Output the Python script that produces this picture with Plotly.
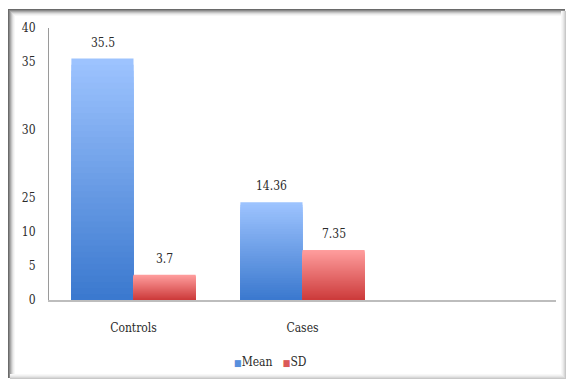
import plotly.graph_objects as go

# ---- data ----
categories = ["Controls", "Cases"]
mean_values = [35.5, 14.36]
sd_values = [3.7, 7.35]
value_labels_mean = ["35.5", "14.36"]
value_labels_sd = ["3.7", "7.35"]

# y-axis tick positions and the labels printed at them
y_tickvals = [0, 5, 10, 15, 25, 35, 40]
y_ticktext = ["0", "5", "10", "25", "30", "35", "40"]

# ---- styling ----
W, H = 568, 381
M_L, M_R, M_T, M_B = 49, 12, 28, 81
FONT = "DejaVu Serif Condensed"
FSIZE = 12
TEXT_COLOR = "#2b2b2b"

MEAN_BOTTOM, MEAN_TOP = (58, 120, 206), (158, 196, 255)
SD_BOTTOM, SD_TOP = (204, 58, 58), (255, 158, 158)
N_SEG = 40  # nested layers used to shade each bar with a vertical gradient


def mix(c0, c1, t):
    r, g, b = (round(a + (b_ - a) * t) for a, b_ in zip(c0, c1))
    return f"rgb({r},{g},{b})"


def px_x(px):
    return (px - M_L) / (W - M_L - M_R)


def px_y(py):
    return (H - M_B - py) / (H - M_T - M_B)


fig = go.Figure()


def add_gradient_bars(values, name, c_bottom, c_top):
    # tallest (lightest) layer first, each shorter & darker layer drawn over it
    for k in range(N_SEG):
        frac = (N_SEG - k) / N_SEG
        t = (N_SEG - k - 0.5) / N_SEG
        fig.add_trace(go.Bar(
            x=categories,
            y=[v * frac for v in values],
            offsetgroup=name,
            name=name,
            marker=dict(color=mix(c_bottom, c_top, t), line=dict(width=0)),
            showlegend=False,
            hoverinfo="skip",
        ))


add_gradient_bars(mean_values, "Mean", MEAN_BOTTOM, MEAN_TOP)
add_gradient_bars(sd_values, "SD", SD_BOTTOM, SD_TOP)

label_font = dict(family=FONT, size=FSIZE, color=TEXT_COLOR)
annotations = []
# value labels above each bar
for cat, v, lab in zip(categories, mean_values, value_labels_mean):
    annotations.append(dict(x=cat, y=v, text=lab, xshift=-31, yshift=7,
                            yanchor="bottom", showarrow=False, font=label_font))
for cat, v, lab in zip(categories, sd_values, value_labels_sd):
    annotations.append(dict(x=cat, y=v, text=lab, xshift=31, yshift=7,
                            yanchor="bottom", showarrow=False, font=label_font))

# legend row
legend_text = (
    f"<span style='color:{mix(MEAN_BOTTOM, MEAN_TOP, 0.3)};font-size:9px'>■</span>Mean"
    "&nbsp;&nbsp;&nbsp;"
    f"<span style='color:{mix(SD_BOTTOM, SD_TOP, 0.3)};font-size:9px'>■</span>SD"
)
annotations.append(dict(xref="paper", yref="paper", x=px_x(270), y=px_y(362),
                        text=legend_text, showarrow=False,
                        xanchor="center", yanchor="middle", font=label_font))

# picture frame with a soft inner shadow
shapes = []
outer = (8, 9, 566, 379)
shade_steps = [
    ("#6a6a6a", 0), ("#8a8a8a", 1), ("#a8a8a8", 2), ("#c4c4c4", 3),
    ("#dcdcdc", 4), ("#ededed", 5), ("#f7f7f7", 6),
]
for col, k in shade_steps:
    x0, y0 = outer[0] + k, outer[1] + k
    shapes.append(dict(type="line", xref="paper", yref="paper",
                       x0=px_x(x0), x1=px_x(outer[2] - 1), y0=px_y(y0 + 0.5), y1=px_y(y0 + 0.5),
                       line=dict(color=col, width=1)))
    shapes.append(dict(type="line", xref="paper", yref="paper",
                       x0=px_x(x0 + 0.5), x1=px_x(x0 + 0.5), y0=px_y(y0), y1=px_y(outer[3] - 1),
                       line=dict(color=col, width=1)))
light_steps = [("#c8c8c8", 0), ("#d8d8d8", 1), ("#e6e6e6", 2), ("#f1f1f1", 3), ("#f8f8f8", 4)]
for col, k in light_steps:
    xr, yb = outer[2] - k, outer[3] - k
    shapes.append(dict(type="line", xref="paper", yref="paper",
                       x0=px_x(xr - 0.5), x1=px_x(xr - 0.5), y0=px_y(outer[1] + 2), y1=px_y(yb),
                       line=dict(color=col, width=1)))
    shapes.append(dict(type="line", xref="paper", yref="paper",
                       x0=px_x(outer[0] + 2), x1=px_x(xr), y0=px_y(yb - 0.5), y1=px_y(yb - 0.5),
                       line=dict(color=col, width=1)))

fig.update_layout(
    width=W, height=H,
    margin=dict(l=M_L, r=M_R, t=M_T, b=M_B, pad=0),
    paper_bgcolor="white", plot_bgcolor="white",
    barmode="group", bargap=0.265, bargroupgap=0,
    showlegend=False,
    annotations=annotations,
    shapes=shapes,
    font=label_font,
    xaxis=dict(
        type="category", range=[-0.5, 2.5], categoryorder="array",
        categoryarray=categories,
        showline=True, linecolor="#bdbdbd", linewidth=1.5,
        showgrid=False, zeroline=False, ticks="",
        ticklabelstandoff=16,
        tickfont=label_font,
        fixedrange=True,
    ),
    yaxis=dict(
        range=[0, 40], tickvals=y_tickvals, ticktext=y_ticktext,
        showline=True, linecolor="#9a9a9a", linewidth=1,
        showgrid=False, zeroline=False, ticks="",
        ticklabelstandoff=10,
        tickfont=label_font,
        fixedrange=True,
    ),
)

fig.write_html("out.html", config={"displayModeBar": False})
